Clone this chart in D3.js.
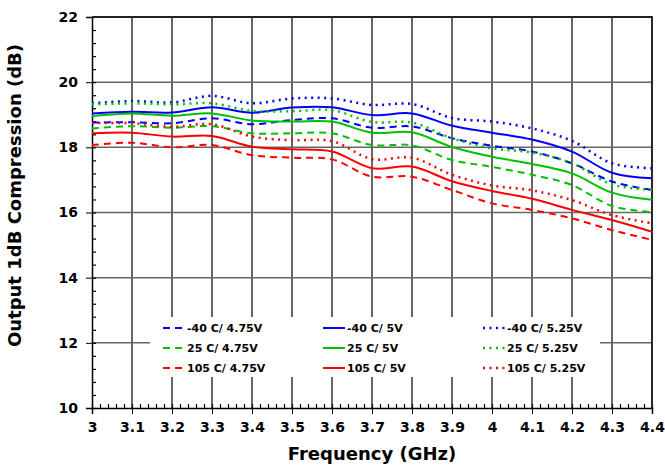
<!DOCTYPE html>
<html>
<head>
<meta charset="utf-8">
<script src="https://cdn.jsdelivr.net/npm/d3@7"></script>
<style>
  body { margin: 0; background: #fff; }
  text { font-family: "DejaVu Sans", Verdana, sans-serif; font-weight: bold; fill: #000; }
</style>
</head>
<body>
<svg width="665" height="469"></svg>
<script>
// frequency points (GHz)
const freq = [3.0, 3.1, 3.2, 3.3, 3.4, 3.5, 3.6, 3.7, 3.8, 3.9, 4.0, 4.1, 4.2, 4.3, 4.4];

// output P1dB (dB) for each temperature / supply
const m40_475 = [18.76, 18.77, 18.74, 18.89, 18.71, 18.84, 18.89, 18.60, 18.64, 18.28, 18.05, 17.87, 17.51, 16.95, 16.69];
const m40_5   = [19.04, 19.09, 19.07, 19.23, 19.06, 19.22, 19.23, 18.99, 19.04, 18.66, 18.45, 18.24, 17.87, 17.22, 17.05];
const m40_525 = [19.35, 19.42, 19.38, 19.58, 19.35, 19.50, 19.50, 19.30, 19.33, 18.90, 18.79, 18.58, 18.20, 17.51, 17.36];
const t25_475 = [18.58, 18.65, 18.60, 18.65, 18.43, 18.43, 18.43, 18.07, 18.06, 17.61, 17.40, 17.16, 16.84, 16.20, 16.01];
const t25_5   = [18.96, 19.04, 18.97, 19.04, 18.82, 18.79, 18.79, 18.45, 18.46, 18.01, 17.71, 17.49, 17.20, 16.61, 16.39];
const t25_525 = [19.32, 19.35, 19.32, 19.35, 19.12, 19.11, 19.14, 18.78, 18.76, 18.28, 17.97, 17.84, 17.51, 16.86, 16.70];
const t105_475 = [18.07, 18.14, 18.00, 18.07, 17.76, 17.68, 17.63, 17.10, 17.10, 16.69, 16.28, 16.08, 15.82, 15.46, 15.16];
const t105_5   = [18.43, 18.45, 18.33, 18.35, 18.02, 17.94, 17.87, 17.36, 17.41, 16.96, 16.66, 16.42, 16.08, 15.77, 15.41];
const t105_525 = [18.74, 18.74, 18.63, 18.71, 18.33, 18.22, 18.19, 17.64, 17.68, 17.16, 16.83, 16.68, 16.38, 15.92, 15.67];

const xTicks = [3, 3.1, 3.2, 3.3, 3.4, 3.5, 3.6, 3.7, 3.8, 3.9, 4, 4.1, 4.2, 4.3, 4.4];
const yTicks = [10, 12, 14, 16, 18, 20, 22];

// legend order: column by column (4.75V, 5V, 5.25V)
const series = [
  { name: '-40 C/ 4.75V', values: m40_475, color: '#0000ff', style: 'dash' },
  { name: '25 C/ 4.75V', values: t25_475, color: '#00c000', style: 'dash' },
  { name: '105 C/ 4.75V', values: t105_475, color: '#ff0000', style: 'dash' },
  { name: '-40 C/ 5V', values: m40_5, color: '#0000ff', style: 'solid' },
  { name: '25 C/ 5V', values: t25_5, color: '#00c000', style: 'solid' },
  { name: '105 C/ 5V', values: t105_5, color: '#ff0000', style: 'solid' },
  { name: '-40 C/ 5.25V', values: m40_525, color: '#0000ff', style: 'dot' },
  { name: '25 C/ 5.25V', values: t25_525, color: '#00c000', style: 'dot' },
  { name: '105 C/ 5.25V', values: t105_525, color: '#ff0000', style: 'dot' },
];

const dash = { dash: '7,5', solid: null, dot: '2,4.5' };
const widths = { dash: 2, solid: 2, dot: 2.5 };

const svg = d3.select('svg');
const margin = { top: 17, right: 13, bottom: 61, left: 92 };
const width = +svg.attr('width');
const height = +svg.attr('height');
const innerWidth = width - margin.left - margin.right;
const innerHeight = height - margin.top - margin.bottom;

const x = d3.scaleLinear().domain([3, 4.4]).range([0, innerWidth]);
const y = d3.scaleLinear().domain([10, 22]).range([innerHeight, 0]);

const g = svg.append('g')
  .attr('transform', `translate(${margin.left},${margin.top})`);

// grid
g.append('g').selectAll('line').data(xTicks.slice(1)).join('line')
  .attr('x1', d => x(d)).attr('x2', d => x(d))
  .attr('y1', 0).attr('y2', innerHeight)
  .attr('stroke', '#333').attr('stroke-width', 1.5);

g.append('g').selectAll('line').data(yTicks.slice(1)).join('line')
  .attr('x1', 0).attr('x2', innerWidth)
  .attr('y1', d => y(d)).attr('y2', d => y(d))
  .attr('stroke', '#666').attr('stroke-width', 1.5);

// minor ticks (inside)
const xMinor = d3.range(0, 71).map(i => 3 + i * 0.02);
const yMinor = d3.range(0, 31).map(i => 10 + i * 0.4);

g.append('g').attr('transform', `translate(0,${innerHeight})`)
  .call(d3.axisTop(x).tickValues(xMinor).tickSize(4).tickFormat(''))
  .call(a => a.select('.domain').remove())
  .call(a => a.selectAll('text').remove())
  .selectAll('line').attr('stroke-width', 1.2);

g.append('g')
  .call(d3.axisRight(y).tickValues(yMinor).tickSize(4).tickFormat(''))
  .call(a => a.select('.domain').remove())
  .call(a => a.selectAll('text').remove())
  .selectAll('line').attr('stroke-width', 1.2);

// major axes
const xAxis = g.append('g').attr('transform', `translate(0,${innerHeight})`)
  .call(d3.axisBottom(x).tickValues(xTicks).tickSize(6).tickPadding(8).tickFormat(d3.format('~g')));
xAxis.selectAll('text').style('font-size', '14px');
xAxis.select('.domain').attr('stroke-width', 1.5);

const yAxis = g.append('g')
  .call(d3.axisLeft(y).tickValues(yTicks).tickSize(6).tickPadding(8));
yAxis.selectAll('text').style('font-size', '14px');
yAxis.select('.domain').attr('stroke-width', 1.5);

// top and right border
g.append('path')
  .attr('d', `M0,0H${innerWidth}V${innerHeight}`)
  .attr('fill', 'none').attr('stroke', '#222').attr('stroke-width', 1.8);

// lines
const line = d3.line()
  .x((d, i) => x(freq[i]))
  .y(d => y(d))
  .curve(d3.curveCatmullRom);

g.append('g').selectAll('path').data(series).join('path')
  .attr('d', d => line(d.values))
  .attr('fill', 'none')
  .attr('stroke', d => d.color)
  .attr('stroke-width', d => widths[d.style])
  .attr('stroke-dasharray', d => dash[d.style]);

// legend
const legend = g.append('g');
legend.append('rect')
  .attr('x', 58).attr('y', 300).attr('width', 450).attr('height', 60)
  .attr('fill', '#fff');

const item = legend.selectAll('g.item').data(series).join('g')
  .attr('class', 'item')
  .attr('transform', (d, i) => `translate(${71 + Math.floor(i / 3) * 160},${311 + (i % 3) * 20})`);

item.append('line')
  .attr('x1', 0).attr('x2', 22).attr('y1', 0).attr('y2', 0)
  .attr('stroke', d => d.color)
  .attr('stroke-width', d => widths[d.style])
  .attr('stroke-dasharray', d => dash[d.style]);

item.append('text')
  .attr('x', 24).attr('y', 4)
  .style('font-size', '11px')
  .text(d => d.name);

// axis titles
g.append('text')
  .attr('x', innerWidth / 2).attr('y', innerHeight + 52)
  .attr('text-anchor', 'middle')
  .style('font-size', '18px')
  .text('Frequency (GHz)');

g.append('text')
  .attr('transform', `translate(-71,${innerHeight / 2 - 17}) rotate(-90)`)
  .attr('text-anchor', 'middle')
  .style('font-size', '18px')
  .text('Output 1dB Compression (dB)');
</script>
</body>
</html>
